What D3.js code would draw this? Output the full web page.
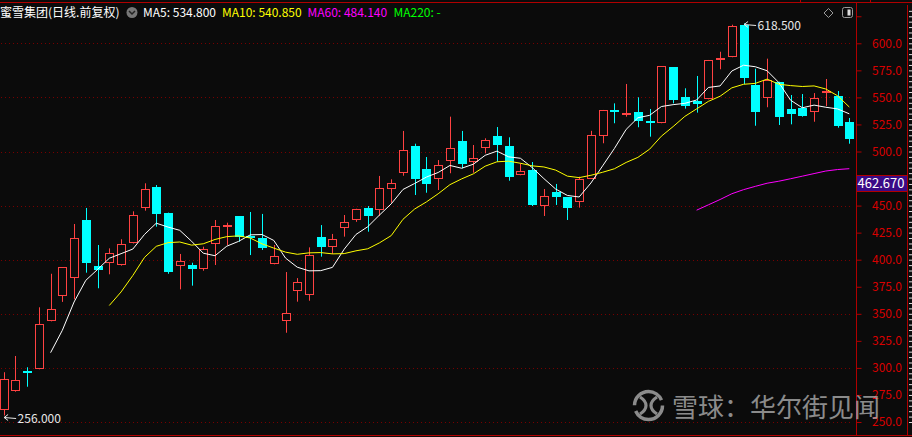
<!DOCTYPE html>
<html>
<head>
<meta charset="utf-8">
<script src="https://cdn.jsdelivr.net/npm/d3@7"></script>
<style>
  html, body { margin: 0; padding: 0; background: #0b0b0b; overflow: hidden; }
  svg { display: block; }
  text { font-family: "Noto Sans CJK SC", "Noto Sans", sans-serif; }
</style>
</head>
<body>
<svg id="chart"></svg>
<script>
// daily candles since listing
const opens  = [261, 279, 297.5, 299.3, 343, 365.8, 383, 436.7, 394.2, 396.7,
                394.5, 415.2, 447.5, 467.2, 442.9, 394.5, 394.8, 391.1, 414.2, 430.5,
                440.4, 422, 420, 396.7, 342.7, 370.8, 366.7, 421, 411.4, 429,
                437.3, 447.5, 445.3, 465.1, 479.9, 505.1, 483.5, 474.3, 490.6, 509.7,
                489.6, 503, 514.3, 505.1, 478, 482.9, 449.9, 462.6, 457.7, 453,
                475, 514.6, 538.8, 533.5, 536.5, 528.5, 526.1, 577.8, 550.1, 547,
                548.2, 583.9, 587.1, 616.9, 561.5, 549.2, 564.2, 539, 540.5, 536.5,
                554.3, 551.3, 527.3];
const highs  = [296, 311, 300.6, 356, 387, 393, 433, 447.8, 413.6, 410.5,
                418.9, 444.7, 470.6, 469, 443.5, 405.3, 397.2, 412, 436.7, 434.2,
                440.4, 444.1, 442.3, 413.6, 388.6, 383, 411.4, 432, 423.8, 441.3,
                447.1, 449.6, 477.4, 474.3, 519, 507.2, 494.9, 492.1, 532.2, 519,
                506, 512.2, 522.6, 513.1, 489, 490.3, 465.3, 470, 458, 476.7,
                519.1, 538.4, 544.5, 562.4, 550.1, 539.3, 579, 577.8, 558.4, 569.8,
                584.6, 592.2, 617.2, 618.5, 576.5, 585.8, 564.5, 552.2, 553.1, 554,
                567, 555.9, 531];
const lows   = [256, 278, 282.6, 298.7, 343, 361, 363.4, 388, 373.6, 386.5,
                394.5, 415, 445.3, 430.5, 387, 372.6, 376, 389.8, 395.1, 413.6,
                416.6, 404.3, 409, 395.7, 332.5, 361.2, 362.1, 402.8, 405.3, 421.3,
                435, 425.9, 440.4, 452.7, 477.6, 459.8, 461.9, 464.4, 479.9, 484.5,
                480.4, 498.3, 490.6, 473, 478, 449.6, 440.4, 450.6, 436.7, 448.1,
                475, 507.6, 526.1, 532.2, 522.4, 513.7, 526.1, 544.5, 539.6, 535.9,
                548.2, 576, 587.1, 562.4, 523.8, 540.9, 524.5, 525.1, 532.2, 527.5,
                542, 522, 507.2];
const closes = [289.5, 289, 297, 340.6, 354.2, 393, 419.8, 397.2, 390.8, 405.9,
                414.2, 441, 465.1, 442.5, 388, 399.1, 390.8, 409.6, 430.9, 432,
                421.3, 421, 411.1, 403.7, 350.5, 379.1, 404.1, 412, 418.9, 434.6,
                447.1, 439.7, 466, 470.6, 501.1, 474.9, 469.3, 487.2, 503, 488.2,
                493.7, 510.4, 506.3, 476.7, 481.7, 450.8, 459.1, 458.2, 447.1, 474.6,
                515.3, 538.4, 538.4, 535.3, 528.5, 526.6, 579, 547, 541.4, 543.9,
                584.6, 586.1, 616, 568.2, 536.8, 566.1, 531.6, 534.4, 533.1, 549.2,
                556.2, 523.8, 511.8];

const maPeriods = [5, 10, 60];
const maColors  = ["#ffffff", "#ffff00", "#ff00ff"];
const legendItems = [
  {text: "MA5: 534.800",  color: "#ffffff", x: 143},
  {text: "MA10: 540.850", color: "#ffff00", x: 222},
  {text: "MA60: 484.140", color: "#ff00ff", x: 307.5},
  {text: "MA220: -",      color: "#00ff00", x: 393.5}
];
const priceTicks = d3.range(250, 626, 25);
const gridTicks  = d3.range(250, 601, 50);
const boxVal = 462.670;

const width = 912, height = 437;
const plotRight = 856.5;

const svg = d3.select("#chart").attr("width", width).attr("height", height);
svg.append("rect").attr("width", width).attr("height", height).attr("fill", "#0b0b0b");

const data = opens.map((o, i) => ({i: i, o: o, h: highs[i], l: lows[i], c: closes[i]}));

const x = d3.scalePoint()
  .domain(data.map(d => d.i))
  .range([3.6, 849.3]);

const y = d3.scaleLinear()
  .domain([250, 600])
  .range([422, 43.3]);

const px = v => Math.round(x(v)) + 0.5;

// grid
svg.append("g")
  .selectAll("line")
  .data(gridTicks)
  .join("line")
    .attr("x1", 1)
    .attr("x2", plotRight - 4)
    .attr("y1", d => Math.round(y(d)) + 0.5)
    .attr("y2", d => Math.round(y(d)) + 0.5)
    .attr("stroke", "#780000")
    .attr("stroke-dasharray", "1,3");

svg.append("clipPath").attr("id", "plotclip")
  .append("rect").attr("x", 0).attr("y", 3).attr("width", plotRight).attr("height", 432);

const plot = svg.append("g").attr("clip-path", "url(#plotclip)");

// candles
const up = d => d.c >= d.o;
const candles = plot.append("g")
  .selectAll("g")
  .data(data)
  .join("g");

candles.append("line")
  .attr("x1", d => px(d.i))
  .attr("x2", d => px(d.i))
  .attr("y1", d => y(d.h))
  .attr("y2", d => y(d.l))
  .attr("stroke", d => up(d) ? "#ff4242" : "#00ffff");

candles.append("rect")
  .attr("x", d => up(d) ? px(d.i) - 4 : px(d.i) - 4.5)
  .attr("y", d => Math.round(y(Math.max(d.o, d.c))) + (up(d) ? 0.5 : 0))
  .attr("width", d => up(d) ? 8 : 9)
  .attr("height", d => Math.max(up(d) ? 1 : 2, Math.round(y(Math.min(d.o, d.c)) - y(Math.max(d.o, d.c))) - (up(d) ? 1 : 0)))
  .attr("fill", d => up(d) ? "#0b0b0b" : "#00ffff")
  .attr("stroke", d => up(d) ? "#ff4242" : "none");

// moving averages
maPeriods.forEach((p, k) => {
  const ma = data.slice(p - 1).map(d => ({i: d.i, v: d3.mean(closes.slice(d.i - p + 1, d.i + 1))}));
  plot.append("path")
    .datum(ma)
    .attr("fill", "none")
    .attr("stroke", maColors[k])
    .attr("stroke-width", 1)
    .attr("d", d3.line().x(d => x(d.i)).y(d => y(d.v)));
});

// high / low markers
const hiIdx = d3.maxIndex(highs), loIdx = d3.minIndex(lows);
function marker(i, v, label) {
  const ax = x(i) + 0.5, ay = Math.round(y(v)) + 1.5;
  const g = svg.append("g");
  g.append("path")
    .attr("d", `M${ax + 4},${ay - 3}L${ax},${ay}L${ax + 4},${ay + 3}M${ax},${ay}L${ax + 12},${ay + 1}`)
    .attr("fill", "none").attr("stroke", "#e8e8e8");
  g.append("text")
    .attr("x", ax + 13.5).attr("y", ay + 5.5)
    .attr("fill", "#e8e8e8").attr("font-size", 12)
    .text(label);
}
marker(hiIdx, highs[hiIdx], d3.format(".3f")(highs[hiIdx]));
marker(loIdx, lows[loIdx], d3.format(".3f")(lows[loIdx]));

// frame
svg.append("line").attr("x1", 0).attr("x2", width).attr("y1", 2.5).attr("y2", 2.5).attr("stroke", "#b00000");
svg.append("line").attr("x1", 0).attr("x2", width).attr("y1", 435.5).attr("y2", 435.5).attr("stroke", "#b00000");
svg.append("line").attr("x1", plotRight).attr("x2", plotRight).attr("y1", 2).attr("y2", 436).attr("stroke", "#b00000");
svg.append("line").attr("x1", 907.5).attr("x2", 907.5).attr("y1", 5).attr("y2", 436).attr("stroke", "#b00000");
[800.5, 870.5].forEach(t => svg.append("line").attr("x1", t).attr("x2", t).attr("y1", 0).attr("y2", 3).attr("stroke", "#b00000"));

// price axis (the label hidden by the value box is left out)
const yAxis = svg.append("g")
  .attr("transform", `translate(${plotRight},0)`)
  .call(d3.axisRight(y).tickValues(priceTicks).tickSize(5)
    .tickFormat(d => (d > 600 || Math.abs(y(d) - y(boxVal) + 8) < 10) ? "" : d3.format(".1f")(d)));
yAxis.select(".domain").remove();
yAxis.selectAll(".tick line").attr("stroke", "#b00000");
yAxis.selectAll(".tick text")
  .attr("x", 45.5)
  .attr("text-anchor", "end")
  .attr("fill", "#d80000")
  .attr("font-size", 12)
  .attr("font-family", "'Noto Sans', sans-serif");

// far right scale strip
const strip = svg.append("g")
  .attr("transform", "translate(912,0)")
  .call(d3.axisLeft(y).tickValues(d3.range(250, 631, 5)).tickSize(3).tickFormat(""));
strip.select(".domain").remove();
strip.selectAll(".tick line").attr("stroke", "#dddddd");

// current value box
svg.append("rect")
  .attr("x", plotRight).attr("y", Math.round(y(boxVal)) - 16.5)
  .attr("width", 51).attr("height", 16)
  .attr("fill", "#3a0a86").attr("stroke", "#b00000");
svg.append("text")
  .attr("x", plotRight + 1).attr("y", Math.round(y(boxVal)) - 4)
  .attr("fill", "#ffffff").attr("font-size", 13)
  .attr("font-family", "'Noto Sans', sans-serif")
  .text(d3.format(".3f")(boxVal));

// title + legend
svg.append("text")
  .attr("x", 0).attr("y", 17)
  .attr("fill", "#ffffff").attr("font-size", 12)
  .text("蜜雪集团(日线.前复权)");
svg.append("circle").attr("cx", 132).attr("cy", 12.5).attr("r", 5.5).attr("fill", "#777777");
svg.append("path").attr("d", "M129,11L132,14L135,11").attr("fill", "none").attr("stroke", "#222").attr("stroke-width", 1.5);

svg.append("g")
  .selectAll("text")
  .data(legendItems)
  .join("text")
    .attr("x", d => d.x).attr("y", 17)
    .attr("fill", d => d.color)
    .attr("font-size", 12)
    .attr("font-family", "'Noto Sans', sans-serif")
    .text(d => d.text);

// top right icons
svg.append("path").attr("d", "M828.5,8.5L833,13L828.5,17.5L824,13Z").attr("fill", "none").attr("stroke", "#9a9a9a");
svg.append("rect").attr("x", 842.5).attr("y", 7.5).attr("width", 10).attr("height", 10).attr("rx", 2)
  .attr("fill", "none").attr("stroke", "#9a9a9a");
svg.append("rect").attr("x", 847.5).attr("y", 9.5).attr("width", 3).attr("height", 6).attr("fill", "#dddddd");

// watermark
const wm = svg.append("g").attr("opacity", 0.72);
wm.append("circle").attr("cx", 648.5).attr("cy", 405.5).attr("r", 14)
  .attr("fill", "none").attr("stroke", "#bdbdbd").attr("stroke-width", 3.5)
  .attr("stroke-dasharray", "38,6");
wm.append("path")
  .attr("d", "M640,397C648,402 648,409 640,414M657,397C649,402 649,409 657,414")
  .attr("fill", "none").attr("stroke", "#bdbdbd").attr("stroke-width", 3.2);
wm.append("text")
  .attr("x", 672).attr("y", 405)
  .attr("dominant-baseline", "central")
  .attr("fill", "#bdbdbd").attr("font-size", 26)
  .text("雪球：华尔街见闻");
</script>
</body>
</html>
